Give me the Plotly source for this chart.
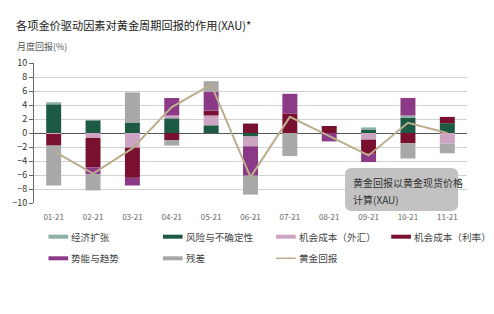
import plotly.graph_objects as go

months = ["01-21", "02-21", "03-21", "04-21", "05-21", "06-21", "07-21", "08-21", "09-21", "10-21", "11-21"]

risk = [4.1, 1.8, 1.5, 2.1, 1.1, -0.5, 0, 0, 0.5, 2.2, 1.4]
econ = [0.3, 0, 0, 0, 0, 0, 0, 0, 0.3, 0.3, 0]
fx = [-0.15, -0.7, -2.1, 0.4, 1.4, -1.4, 0, 0, -0.95, 0, -1.5]
rate = [-1.65, -4.2, -4.3, -1.0, 0.7, 1.35, 2.8, 1.0, -2.0, -1.45, 0.9]
momentum = [0, -1.0, -1.1, 2.5, 2.7, -4.2, 2.8, -1.2, -1.2, 2.5, 0]
residual = [-5.7, -2.3, 4.3, -0.8, 1.5, -2.7, -3.3, 0, 0, -2.2, -1.4]
gold = [-2.6, -5.8, -2.2, 3.7, 6.9, -6.3, 2.3, -0.4, -3.2, 1.45, 0.0]

colors = {
    "经济扩张": "#8fb0a4",
    "风险与不确定性": "#1c5a44",
    "机会成本（外汇）": "#cda5c3",
    "机会成本（利率）": "#7a1030",
    "势能与趋势": "#8c3a88",
    "残差": "#a8a8a8",
    "黄金回报": "#bcae8c",
}

series = [
    ("风险与不确定性", risk),
    ("经济扩张", econ),
    ("机会成本（外汇）", fx),
    ("机会成本（利率）", rate),
    ("势能与趋势", momentum),
    ("残差", residual),
]

FONT = "Noto Sans CJK SC"
fig = go.Figure()
for name, vals in series:
    fig.add_trace(go.Bar(x=months, y=vals, name=name, marker=dict(color=colors[name], line=dict(width=0)),
                         showlegend=False))
fig.add_trace(go.Scatter(x=months, y=gold, mode="lines", name="黄金回报",
                         line=dict(color=colors["黄金回报"], width=2), showlegend=False))

L, R, T, B = 27, 27, 63, 111
PW = 494 - L - R
PH = 314 - T - B

def px2x(px):
    return (px - L) / PW

def py2y(py):
    return (T + PH - py) / PH

shapes = []
annotations = []

legend_items = [
    ("经济扩张", 41.7, 236.7, "bar"), ("风险与不确定性", 158, 236.7, "bar"),
    ("机会成本（外汇）", 273, 236.7, "bar"), ("机会成本（利率）", 390, 236.7, "bar"),
    ("势能与趋势", 41.7, 258.3, "bar"), ("残差", 158, 258.3, "bar"),
    ("黄金回报", 273, 258.3, "line"),
]
for name, sx, sy, kind in legend_items:
    shapes.append(dict(type="line", xref="paper", yref="paper",
                       x0=px2x(sx), x1=px2x(sx + 20), y0=py2y(sy), y1=py2y(sy),
                       line=dict(color=colors[name], width=4 if kind == "bar" else 1.5)))
    annotations.append(dict(xref="paper", yref="paper", x=px2x(sx + 21), y=py2y(sy),
                            text=name, showarrow=False, xanchor="left", yanchor="middle",
                            font=dict(family=FONT, size=9.6, color="#444")))

x0, x1, y0, y1 = 343, 458, 168, 211
r = 7
path = (f"M {px2x(x0 + r)} {py2y(y0)} L {px2x(x1 - r)} {py2y(y0)} "
        f"Q {px2x(x1)} {py2y(y0)} {px2x(x1)} {py2y(y0 + r)} "
        f"L {px2x(x1)} {py2y(y1 - r)} Q {px2x(x1)} {py2y(y1)} {px2x(x1 - r)} {py2y(y1)} "
        f"L {px2x(x0 + r)} {py2y(y1)} Q {px2x(x0)} {py2y(y1)} {px2x(x0)} {py2y(y1 - r)} "
        f"L {px2x(x0)} {py2y(y0 + r)} Q {px2x(x0)} {py2y(y0)} {px2x(x0 + r)} {py2y(y0)} Z")
shapes.append(dict(type="path", xref="paper", yref="paper", path=path,
                   fillcolor="#c2c2c2", line=dict(width=0), layer="above"))
annotations.append(dict(xref="paper", yref="paper", x=px2x(349), y=py2y(182), text="黄金回报以黄金现货价格",
                        showarrow=False, xanchor="left", yanchor="middle",
                        font=dict(family=FONT, size=10, color="#333")))
annotations.append(dict(xref="paper", yref="paper", x=px2x(349), y=py2y(199), text="计算(XAU)",
                        showarrow=False, xanchor="left", yanchor="middle",
                        font=dict(family=FONT, size=10, color="#333")))

annotations.append(dict(xref="paper", yref="paper", x=px2x(7), y=py2y(25),
                        text="各项金价驱动因素对黄金周期回报的作用(XAU)*", showarrow=False,
                        xanchor="left", yanchor="middle", font=dict(family=FONT, size=11.2, color="#222")))
annotations.append(dict(xref="paper", yref="paper", x=px2x(8), y=py2y(46),
                        text="月度回报(%)", showarrow=False,
                        xanchor="left", yanchor="middle", font=dict(family=FONT, size=9, color="#555")))

fig.update_layout(
    width=494, height=314,
    margin=dict(l=L, r=R, t=T, b=B),
    paper_bgcolor="white", plot_bgcolor="white",
    barmode="relative", bargap=0.62,
    font=dict(family=FONT, size=9, color="#444"),
    shapes=shapes, annotations=annotations,
    xaxis=dict(showgrid=False, showline=False, ticks="", zeroline=False, ticklabelstandoff=8,
               tickfont=dict(size=8, color="#666"), range=[-0.5, 10.5]),
    yaxis=dict(range=[-10, 10], dtick=2, showgrid=True, gridcolor="#d2d2d2", gridwidth=1,
               zeroline=True, zerolinecolor="#555", zerolinewidth=1,
               showline=True, linecolor="#666", linewidth=1, ticks="outside", ticklen=4,
               tickcolor="#666", tickfont=dict(size=9, color="#333")),
)

fig.write_html("out.html")
